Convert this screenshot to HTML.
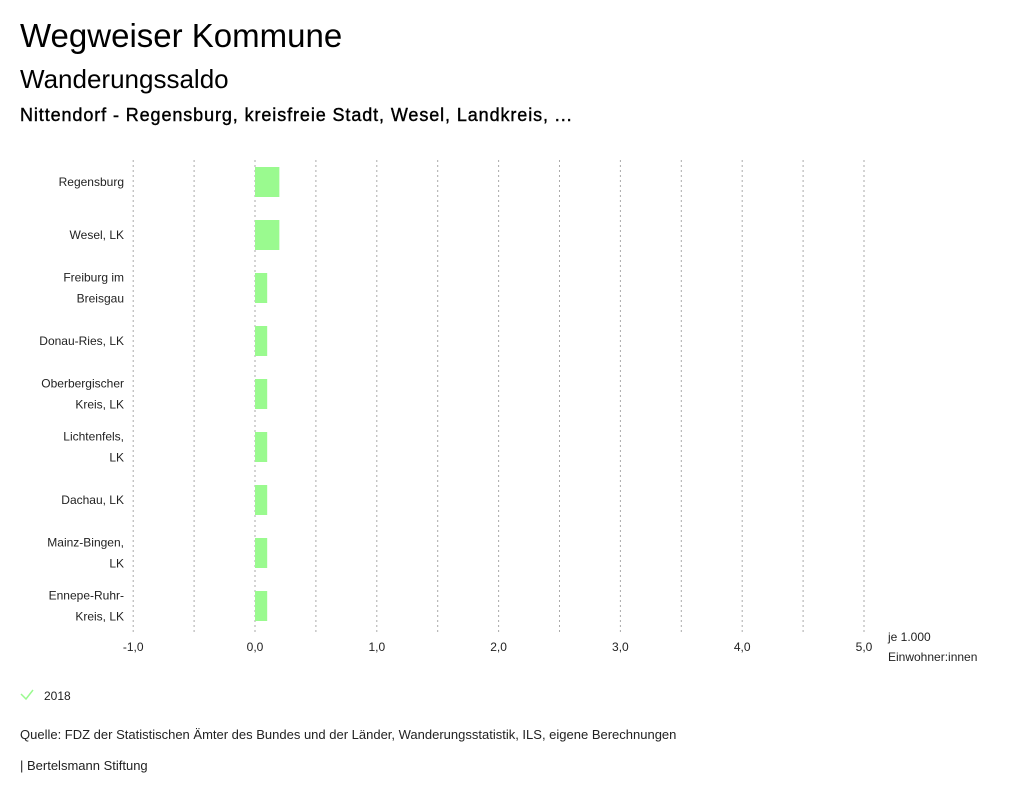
<!DOCTYPE html>
<html><head><meta charset="utf-8"><style>
body{margin:0;width:1024px;height:798px;background:#fff;font-family:"Liberation Sans",sans-serif;color:#000;overflow:hidden;position:relative}
.t{position:absolute;left:20px;white-space:nowrap}
svg text{font-family:"Liberation Sans",sans-serif;font-size:12px;fill:#222}
</style></head><body>
<div class="t" style="top:17px;font-size:33px">Wegweiser Kommune</div>
<div class="t" style="top:64px;font-size:26px">Wanderungssaldo</div>
<div class="t" style="top:105px;font-size:18px;letter-spacing:0.9px;-webkit-text-stroke:0.4px #000">Nittendorf - Regensburg, kreisfreie Stadt, Wesel, Landkreis, ...</div>
<svg id="chart" width="1024" height="798" style="position:absolute;left:0;top:0">
<g id="grid"></g><g id="bars"></g><g id="ylabels"></g><g id="xticks"></g>
<text x="888" y="641">je 1.000</text>
<text x="888" y="661">Einwohner:innen</text>
<polyline points="21,694 26,699 33,690" fill="none" stroke="#9afa8f" stroke-width="1.5"/>
<text x="44" y="700">2018</text>
<text x="20" y="739" style="font-size:13px">Quelle: FDZ der Statistischen Ämter des Bundes und der Länder, Wanderungsstatistik, ILS, eigene Berechnungen</text>
<text x="20" y="770" style="font-size:13px">| Bertelsmann Stiftung</text>
</svg>
<script>
const categories=[["Regensburg"],["Wesel, LK"],["Freiburg im","Breisgau"],["Donau-Ries, LK"],["Oberbergischer","Kreis, LK"],["Lichtenfels,","LK"],["Dachau, LK"],["Mainz-Bingen,","LK"],["Ennepe-Ruhr-","Kreis, LK"]];
const values2018=[0.2,0.2,0.1,0.1,0.1,0.1,0.1,0.1,0.1];
const tickValues=[-1,0,1,2,3,4,5];
const tickLabels=["-1,0","0,0","1,0","2,0","3,0","4,0","5,0"];
const ns="http://www.w3.org/2000/svg";
const x=v=>255+(v)*121.8;
const yc=i=>182+i*53;
function mk(t,a,p){const e=document.createElementNS(ns,t);for(const k in a)e.setAttribute(k,a[k]);document.getElementById(p).appendChild(e);return e;}
for(let g=-1;g<=5.001;g+=0.5){
 const l=mk('line',{x1:x(g),x2:x(g),y1:160,y2:632,stroke:'#aaa','stroke-dasharray':'2,3'},'grid');
 
 
}
tickValues.forEach((v,i)=>{
 const t=mk('text',{x:x(v),y:651,'text-anchor':'middle'},'xticks');t.textContent=tickLabels[i];
 
 
});
categories.forEach((c,i)=>{
 const v=values2018[i];
 const r=mk('rect',{x:Math.min(x(0),x(v)),y:yc(i)-15,width:Math.abs(x(v)-x(0)),height:30,fill:'#9afa8f'},'bars');
 
 
 c.forEach((line,j)=>{
  const t=mk('text',{x:124,y:yc(i)+4+(j-(c.length-1)/2)*21,'text-anchor':'end'},'ylabels');t.textContent=line;
  
  
 });
});
</script>
</body></html>
